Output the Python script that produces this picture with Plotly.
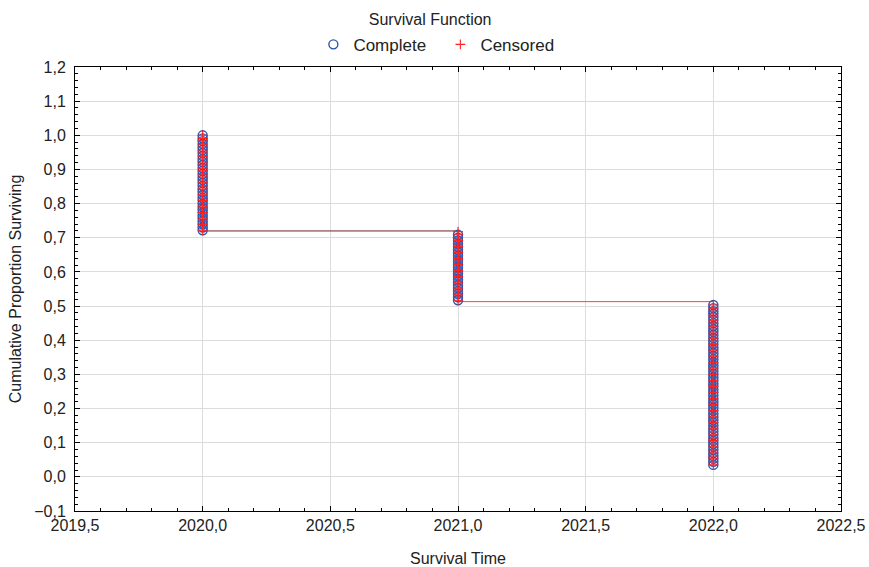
import plotly.graph_objects as go

# Survival times (columns of points)
t_2020 = [2020.0] * 33
s_2020 = [1.000, 0.991, 0.983, 0.974, 0.965, 0.957, 0.948, 0.939, 0.930, 0.922,
          0.913, 0.904, 0.896, 0.887, 0.878, 0.870, 0.861, 0.852, 0.843, 0.835,
          0.826, 0.817, 0.809, 0.800, 0.791, 0.783, 0.774, 0.765, 0.757, 0.748,
          0.739, 0.730, 0.722]
t_2021 = [2021.0] * 23
s_2021 = [0.709, 0.700, 0.692, 0.683, 0.674, 0.665, 0.657, 0.648, 0.639, 0.631,
          0.622, 0.613, 0.604, 0.596, 0.587, 0.578, 0.570, 0.561, 0.552, 0.543,
          0.535, 0.526, 0.517]
t_2022 = [2022.0] * 54
s_2022 = [0.503, 0.494, 0.485, 0.477, 0.468, 0.459, 0.450, 0.441, 0.432, 0.424,
          0.415, 0.406, 0.397, 0.388, 0.379, 0.371, 0.362, 0.353, 0.344, 0.335,
          0.326, 0.318, 0.309, 0.300, 0.291, 0.282, 0.273, 0.265, 0.256, 0.247,
          0.238, 0.229, 0.220, 0.212, 0.203, 0.194, 0.185, 0.176, 0.167, 0.159,
          0.150, 0.141, 0.132, 0.123, 0.114, 0.106, 0.097, 0.088, 0.079, 0.070,
          0.061, 0.053, 0.044, 0.035]

complete_x = t_2020 + t_2021 + t_2022
complete_y = s_2020 + s_2021 + s_2022

censored_x = complete_x + [2021.0]
censored_y = complete_y + [0.718]

step1_x = [2020.0, 2021.0]
step1_y = [0.720, 0.720]
step2_x = [2021.0, 2022.0]
step2_y = [0.513, 0.513]

x_ticks = [2019.5, 2020.0, 2020.5, 2021.0, 2021.5, 2022.0, 2022.5]
y_ticks = [-0.1, 0.0, 0.1, 0.2, 0.3, 0.4, 0.5, 0.6, 0.7, 0.8, 0.9, 1.0, 1.1, 1.2]

FONT = "Liberation Sans, Arial, sans-serif"
TXT = "#222222"

fig = go.Figure()
fig.add_trace(go.Scatter(x=step1_x, y=step1_y, mode="lines",
                         line=dict(color="#6a2424", width=1), showlegend=False,
                         hoverinfo="skip"))
fig.add_trace(go.Scatter(x=step2_x, y=step2_y, mode="lines",
                         line=dict(color="#ff4040", width=1), showlegend=False,
                         hoverinfo="skip"))
fig.add_trace(go.Scatter(x=complete_x, y=complete_y, mode="markers", name="Complete",
                         marker=dict(symbol="circle-open", size=9, color="#2a55b0",
                                     line=dict(width=1.4, color="#2a55b0"))))
fig.add_trace(go.Scatter(x=censored_x, y=censored_y, mode="markers", name="Censored",
                         marker=dict(symbol="cross-thin-open", size=7, color="#ff2020",
                                     line=dict(width=1.1, color="#ff2020"))))

axis_common = dict(
    showline=True, linecolor="black", linewidth=1, mirror="ticks",
    ticks="inside", ticklen=5, tickcolor="black",
    showgrid=True, gridcolor="#dcdcdc", gridwidth=1, zeroline=False,
    tickfont=dict(family=FONT, size=16, color=TXT),
    tickformat=".1f", automargin=False,
)

fig.update_xaxes(**axis_common, range=[2019.5, 2022.5], tickvals=x_ticks,
                 minor=dict(dtick=0.1, ticks="inside", ticklen=3, tickcolor="black",
                            showgrid=False),
                 title=dict(text="Survival Time", font=dict(family=FONT, size=16, color=TXT),
                            standoff=27))
fig.update_yaxes(**axis_common, range=[-0.1, 1.2], tickvals=y_ticks,
                 ticklabelstandoff=5,
                 minor=dict(dtick=0.02, ticks="inside", ticklen=3, tickcolor="black",
                            showgrid=False),
                 title=dict(text="Cumulative Proportion Surviving",
                            font=dict(family=FONT, size=16, color=TXT), standoff=8))

fig.update_layout(
    width=869, height=567,
    margin=dict(l=75, r=28, t=67, b=56, autoexpand=False),
    paper_bgcolor="white", plot_bgcolor="white",
    separators=",.",
    font=dict(family=FONT, size=16, color=TXT),
    title=dict(text="Survival Function", x=0.495, xanchor="center", y=0.965, yanchor="middle",
               font=dict(family=FONT, size=16, color=TXT)),
    legend=dict(orientation="h", x=0.477, xanchor="center", y=1.05, yanchor="middle",
                entrywidth=82, entrywidthmode="pixels",
                font=dict(family=FONT, size=17, color=TXT), bgcolor="rgba(0,0,0,0)"),
    showlegend=True,
)

# remove the default page margin so the figure fills the window exactly
fig.write_html("out.html", config={"displayModeBar": False},
               post_script="document.body.style.margin='0';")
